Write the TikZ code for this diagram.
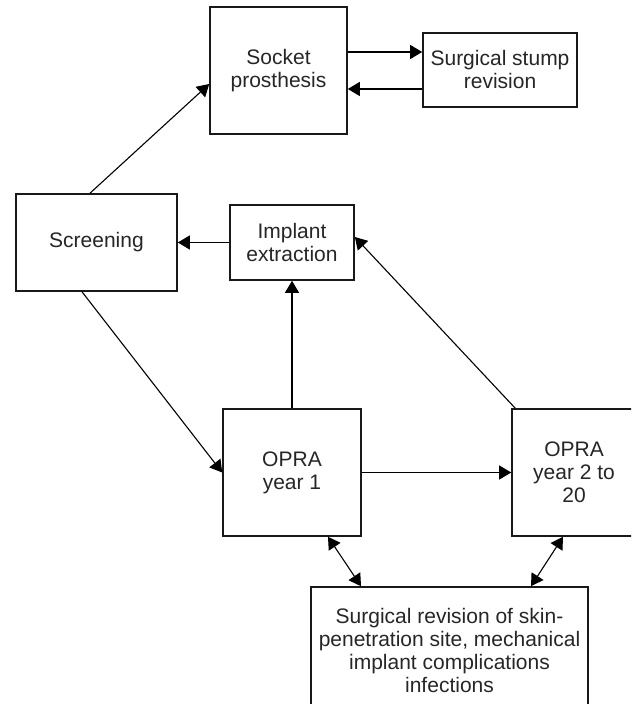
\documentclass[tikz,border=0pt]{standalone}
\usepackage{fontspec}
\setmainfont{Liberation Sans}
\usetikzlibrary{arrows.meta,calc}
\begin{document}
\begin{tikzpicture}[x=0.5pt,y=-0.5pt,
  box/.style={draw=black!90,line width=0.8pt,rectangle,align=center,inner sep=0pt,
    font=\fontsize{10.5}{11.5}\selectfont,text=black!85},
  arr/.style={line width=0.55pt,-{Triangle[length=6pt,width=7pt]}},
  darr/.style={line width=0.55pt,{Triangle[length=6pt,width=7pt]}-{Triangle[length=6pt,width=7pt]}}]
\useasboundingbox (0,0) rectangle (631,704);
\clip (0,0) rectangle (631,704);
\node[box,minimum width=68.5pt,minimum height=63.5pt] (sock) at (278.5,70.5) {Socket\\prosthesis};
\node[box,minimum width=77pt,minimum height=37pt] (stump) at (500,70) {Surgical stump\\revision};
\node[box,minimum width=80.5pt,minimum height=48.5pt] (scr) at (96.5,242.5) {Screening};
\node[box,minimum width=62pt,minimum height=37.5pt] (imp) at (292,242.5) {Implant\\extraction};
\node[box,minimum width=69pt,minimum height=63.5pt] (op1) at (292,472.5) {OPRA\\year 1};
\node[box,minimum width=62pt,minimum height=63.5pt] (op2) at (574,472.5) {OPRA\\year 2 to\\20};
\node[box,minimum width=138.5pt,minimum height=63pt] (bot) at (449.5,650) {Surgical revision of skin-\\penetration site, mechanical\\implant complications\\infections};
% connectors
\draw[arr] ($(sock.east)+(0,-18.5)$) -- ($(stump.west)+(0,-18)$);
\draw[arr] ($(stump.west)+(0,19)$) -- ($(sock.east)+(0,18.5)$);
\draw[arr] ($(scr.north)+(-6.5,0)$) -- ($(sock.west)+(0,13.5)$);
\draw[arr] ($(scr.south)+(-14.5,0)$) -- (op1.west);
\draw[arr] (imp.west) -- (scr.east);
\draw[arr] (op1.north) -- (imp.south);
\draw[arr] (op1.east) -- (op2.west);
\draw[arr] ($(op2.north west)+(4,0)$) -- ($(imp.east)+(0,-5.5)$);
\draw[darr] ($(op1.south)+(36,0)$) -- ($(bot.north)+(-88.5,0)$);
\draw[darr] ($(op2.south)+(-11,0)$) -- ($(bot.north)+(81.5,0)$);
\end{tikzpicture}
\end{document}
